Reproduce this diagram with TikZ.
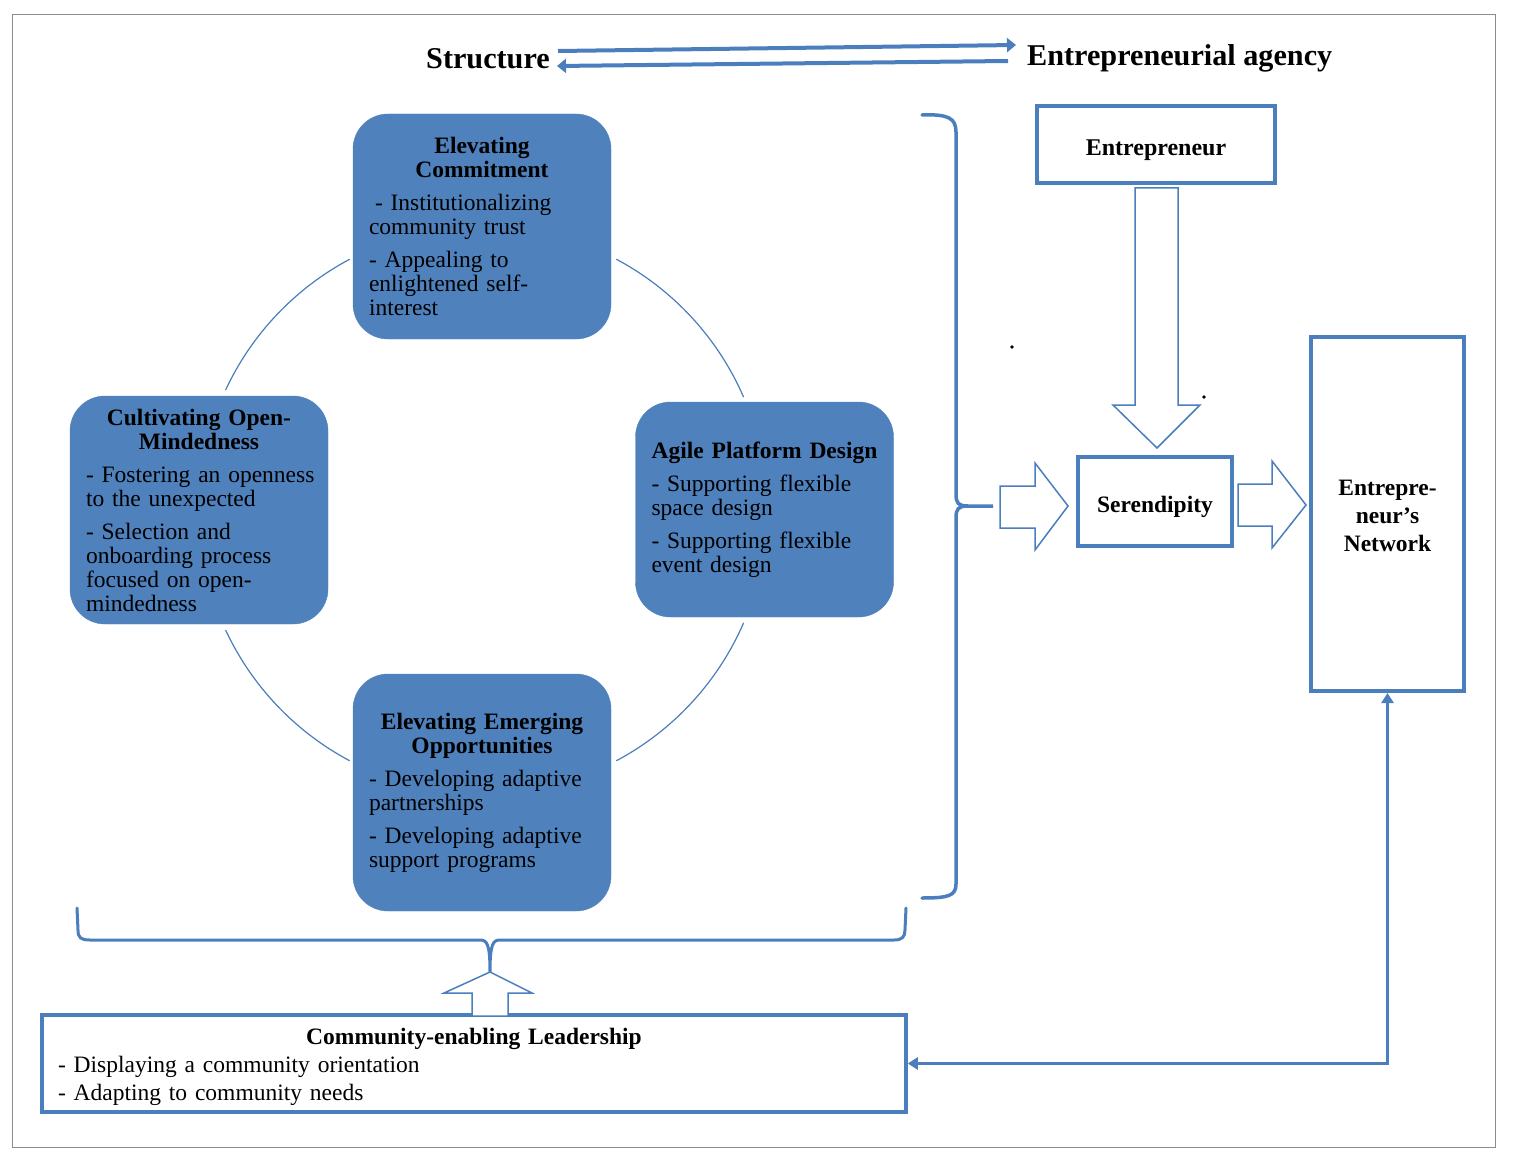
\documentclass[tikz,border=0pt]{standalone}
\usepackage{fontspec}
\setmainfont{Liberation Serif}
\usetikzlibrary{arrows.meta,calc}
\definecolor{boxblue}{RGB}{79,129,189}
\definecolor{lineblue}{RGB}{74,126,189}
\newcommand{\hd}[1]{\makebox[\linewidth][c]{\bfseries #1}}
\newcommand{\bodyfont}{\fontsize{23.5}{24}\selectfont}
\tikzset{
  rbox/.style={rounded corners=35pt, fill=boxblue, draw=boxblue, text width=226pt,
    inner xsep=16pt, inner ysep=0pt, align=left, font=\bodyfont, anchor=center},
  wbox/.style={draw=lineblue, line width=4pt, fill=white, font=\fontsize{23.5}{28}\selectfont\bfseries},
  blockarrow/.style={draw=lineblue, line width=1.5pt, fill=white, line join=miter},
  bracketline/.style={draw=lineblue, line width=3.5pt, line cap=round},
  circline/.style={draw=lineblue, line width=1.2pt},
  toparrow/.style={draw=lineblue, line width=4pt, -{Triangle[length=9pt,width=14pt]}},
  conn/.style={draw=lineblue, line width=3.5pt, {Triangle[length=10pt,width=12pt]}-{Triangle[length=10pt,width=12pt]}},
  title/.style={font=\fontsize{30.2}{31}\selectfont\bfseries, inner sep=0pt}
}
\begin{document}
\begin{tikzpicture}[x=1pt,y=-1pt]
\useasboundingbox (0,0) rectangle (1518,1169);
\fill[white] (0,0) rectangle (1518,1169);
\draw[black!45, line width=1pt] (12,15) rectangle (1495,1147);

% top titles and arrows
\node[title, anchor=east] (struct) at (550,59) {Structure};
\node[title, anchor=west] (agency) at (1027,58) {Entrepreneurial agency};
\draw[toparrow] ($(struct.east)+(8,-8)$) -- ($(agency.west)+(-11,-13)$);
\draw[toparrow] ($(agency.west)+(-19,3)$) -- ($(struct.east)+(7,7)$);

% circle arcs
\coordinate (ctr) at (483,510);
\draw[circline] (ctr) ++(-155:284) arc[start angle=-155, end angle=-118, radius=284];
\draw[circline] (ctr) ++(-62:284) arc[start angle=-62, end angle=-23.4, radius=284];
\draw[circline] (ctr) ++(23.4:284) arc[start angle=23.4, end angle=62, radius=284];
\draw[circline] (ctr) ++(118:284) arc[start angle=118, end angle=155, radius=284];

% rounded boxes
\node[rbox, minimum height=225pt] (ec) at (482,226.5) {\hd{Elevating}\\ \hd{Commitment}\\[9pt]
\hspace*{6pt}- Institutionalizing\\ community trust\\[9pt] - Appealing to\\ enlightened self-\\ interest};
\node[rbox, minimum height=228pt] (co) at (199,510) {\hd{Cultivating Open-}\\ \hd{Mindedness}\\[9pt]
\mbox{- Fostering an openness}\\ to the unexpected\\[9pt] - Selection and\\ onboarding process\\ focused on open-\\ mindedness};
\node[rbox, minimum height=215pt] (ap) at (764.5,509.5) {\hd{Agile Platform Design}\\[9pt]
- Supporting flexible\\ space design\\[9pt] - Supporting flexible\\ event design};
\node[rbox, minimum height=237pt] (ee) at (482,792.5) {\hd{Elevating Emerging}\\ \hd{Opportunities}\\[9pt]
- Developing adaptive\\ partnerships\\[9pt] - Developing adaptive\\ support programs};

% right bracket
\draw[bracketline] (922,115) .. controls (948,114) and (956,118) .. (956,132) -- (956,494)
  .. controls (956,503) and (958,506) .. (968,506) -- (993,506) -- (968,506)
  .. controls (958,506) and (956,509) .. (956,518) -- (956,884)
  .. controls (956,896) and (948,898) .. (922,898);

% bottom brace
\draw[bracketline, line width=3pt] (77,908) -- (78,930) .. controls (78,938) and (81,940) .. (90,940) -- (480,940)
  .. controls (487,940) and (490,944) .. (490,972) .. controls (490,944) and (493,940) .. (500,940)
  -- (894,940) .. controls (902,940) and (905,937) .. (905,930) -- (906,908);

% leadership box
\node[wbox, line width=3.5pt, minimum width=864pt, minimum height=97pt, text width=832pt, inner xsep=16pt,
  align=left, text height=24pt, font=\fontsize{23.5}{28}\selectfont] (lead) at (474,1063.5)
  {\hd{Community-enabling Leadership}\\ - Displaying a community orientation\\ - Adapting to community needs};

% up block arrow
\draw[blockarrow] (490,972) -- (532,993) -- (508,993) -- (508,1016) -- (472,1016) -- (472,993) -- (444,993) -- cycle;

% right side boxes
\node[wbox, minimum width=238pt, minimum height=77pt, text height=28pt, text depth=5pt,
  font=\fontsize{24}{26}\selectfont\bfseries] (ent) at (1156,144.5) {Entrepreneur};
\node[wbox, line width=4.5pt, minimum width=154pt, minimum height=89pt, text height=26.5pt, text depth=5pt] (ser) at (1155,501.5) {Serendipity};
\node[wbox, minimum width=153pt, minimum height=354pt, align=center, text height=76pt] (net) at (1387.5,514) {Entrepre-\\ neur’s\\ Network};

% down block arrow
\draw[blockarrow] (1135,188) -- (1178,188) -- (1178,405) -- (1200,405) -- (1157,448) -- (1113,405) -- (1135,405) -- cycle;
% left block arrow
\draw[blockarrow] (1000,486) -- (1035,486) -- (1035,463) -- (1068,506) -- (1035,550) -- (1035,528) -- (1000,528) -- cycle;
% right block arrow
\draw[blockarrow] (1238,484) -- (1272,484) -- (1272,461) -- (1306,505) -- (1272,548) -- (1272,526) -- (1238,526) -- cycle;

% dots
\fill[black] (1012,347) circle[radius=1.8];
\fill[black] (1204,397) circle[radius=1.8];

% connector network <-> leadership
\draw[conn] (net.south) |- (lead.east);
\end{tikzpicture}
\end{document}
